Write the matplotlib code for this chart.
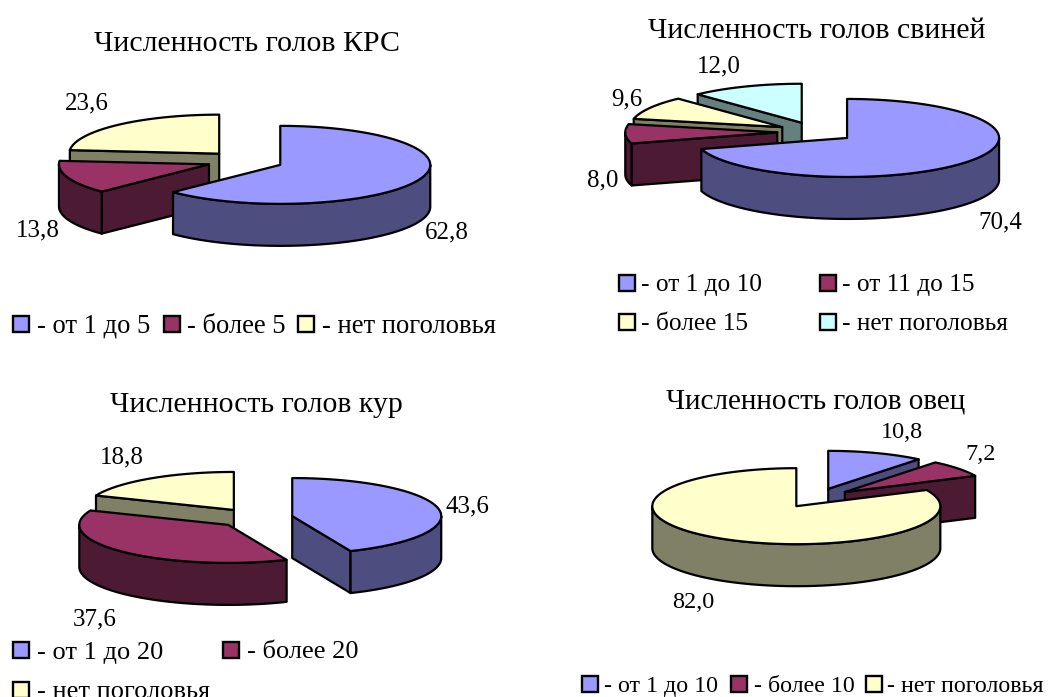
import numpy as np
import matplotlib
matplotlib.use('Agg')
import matplotlib.pyplot as plt
from matplotlib.patches import Polygon, Rectangle

plt.rcParams['font.family'] = ['Liberation Serif', 'DejaVu Serif']

BLUE = ('#9999ff', '#4d4d80')
RED = ('#993366', '#4d1a33')
YELLOW = ('#ffffcc', '#808066')
CYAN = ('#ccffff', '#668080')

# values of each pie, clockwise from 12 o'clock
krs_values = [62.8, 13.8, 23.6]
krs_labels = ['- от 1 до 5', '- более 5', '- нет поголовья']
svin_values = [70.4, 8.0, 9.6, 12.0]
svin_labels = ['- от 1 до 10', '- от 11 до 15', '- более 15', '- нет поголовья']
kur_values = [43.6, 37.6, 18.8]
kur_labels = ['- от 1 до 20', '- более 20', '- нет поголовья']
ovec_values = [10.8, 7.2, 82.0]
ovec_labels = ['- от 1 до 10', '- более 10', '- нет поголовья']

DEPTH = 42
EXPLODE = 0.255
LW = 1.6


def fmt(v):
    return ('%.1f' % v).replace('.', ',')


def draw_pie(ax, values, colors, cx, cy, rx, ry):
    total = sum(values)
    edges = np.cumsum([0] + list(values)) / total * 2 * np.pi
    slices = []
    for i in range(len(values)):
        a, b = edges[i], edges[i + 1]
        mid = (a + b) / 2
        x0 = cx + EXPLODE * rx * np.sin(mid)
        y0 = cy - EXPLODE * ry * np.cos(mid)
        slices.append((y0, x0, a, b, colors[i]))
    # back slices first so the front ones paint over them
    slices.sort(key=lambda s: s[0])
    for y0, x0, a, b, (top, side) in slices:
        t = np.linspace(a, b, 200)
        xs = x0 + rx * np.sin(t)
        ys = y0 - ry * np.cos(t)

        def face(ang):
            xe = x0 + rx * np.sin(ang)
            ye = y0 - ry * np.cos(ang)
            return [(x0, y0), (xe, ye), (xe, ye + DEPTH), (x0, y0 + DEPTH)]

        # hidden cut faces would be painted over anyway, so skip them
        faces = []
        if np.sin(a) < -1e-6:
            faces.append(face(a))
        if np.sin(b) > 1e-6:
            faces.append(face(b))
        for f in faces:
            ax.add_patch(Polygon(f, fc=side, ec='k', lw=LW, joinstyle='round'))
        # outer wall, only the part turned towards the viewer
        low = max(a, np.pi / 2)
        high = min(b, 3 * np.pi / 2)
        if high > low:
            tw = np.linspace(low, high, 200)
            wx = x0 + rx * np.sin(tw)
            wy = y0 - ry * np.cos(tw)
            pts = np.r_[np.c_[wx, wy], np.c_[wx, wy + DEPTH][::-1]]
            ax.add_patch(Polygon(pts, fc=side, ec='k', lw=LW, joinstyle='round'))
        pts = np.r_[[(x0, y0)], np.c_[xs, ys]]
        ax.add_patch(Polygon(pts, fc=top, ec='k', lw=LW, joinstyle='round'))


def legend_item(ax, x_box, x_text, y, color, label, size):
    ax.add_patch(Rectangle((x_box, y - 8), 16, 16, fc=color[0], ec='k', lw=1.7))
    ax.text(x_text, y + 2.5, label, fontsize=size, ha='left', va='center')


def value_labels(ax, values, places, size):
    for v, (x, y) in zip(values, places):
        ax.text(x, y + 2, fmt(v), fontsize=size, ha='center', va='center')


fig = plt.figure(figsize=(10.48, 6.97), dpi=100)
ax = fig.add_axes([0, 0, 1, 1])
ax.set_xlim(0, 1048)
ax.set_ylim(697, 0)
ax.axis('off')

# KRS
ax.text(247, 44, 'Численность голов КРС', fontsize=21.5, ha='center', va='center')
draw_pie(ax, krs_values, [BLUE, RED, YELLOW], 245, 161, 150, 39)
value_labels(ax, krs_values, [(447, 230), (38, 228), (87, 101)], 18)
for lab, col, xb, xt in zip(krs_labels, [BLUE, RED, YELLOW], [13, 164, 298], [37, 187, 322]):
    legend_item(ax, xb, xt, 324, col, lab, 19.2)

# pigs
ax.text(817, 31, 'Численность голов свиней', fontsize=21.5, ha='center', va='center')
draw_pie(ax, svin_values, [BLUE, RED, YELLOW, CYAN], 816, 132, 152, 39)
value_labels(ax, svin_values, [(1000, 220), (603, 178), (627, 97), (719, 64)], 18)
legend_item(ax, 619, 641, 283, BLUE, svin_labels[0], 18.3)
legend_item(ax, 820, 842, 283, RED, svin_labels[1], 18.3)
legend_item(ax, 619, 641, 322, YELLOW, svin_labels[2], 18.3)
legend_item(ax, 820, 842, 322, CYAN, svin_labels[3], 18.3)

# chickens
ax.text(256, 405, 'Численность голов кур', fontsize=21.4, ha='center', va='center')
draw_pie(ax, kur_values, [BLUE, RED, YELLOW], 255, 518, 149, 38)
value_labels(ax, kur_values, [(467, 504), (95, 617), (122, 455)], 18)
legend_item(ax, 13, 37, 650, BLUE, kur_labels[0], 19)
legend_item(ax, 223, 247, 650, RED, kur_labels[1], 19)
legend_item(ax, 13, 37, 690, YELLOW, kur_labels[2], 19)

# sheep
ax.text(816, 401, 'Численность голов овец', fontsize=21, ha='center', va='center')
draw_pie(ax, ovec_values, [BLUE, RED, YELLOW], 816, 498, 144, 38)
value_labels(ax, ovec_values, [(902, 431), (981, 452), (693, 600)], 17.5)
for lab, col, xb, xt in zip(ovec_labels, [BLUE, RED, YELLOW], [582, 731, 866], [604, 754, 887]):
    legend_item(ax, xb, xt, 684, col, lab, 17.3)

fig.savefig('out.png', dpi=100)
